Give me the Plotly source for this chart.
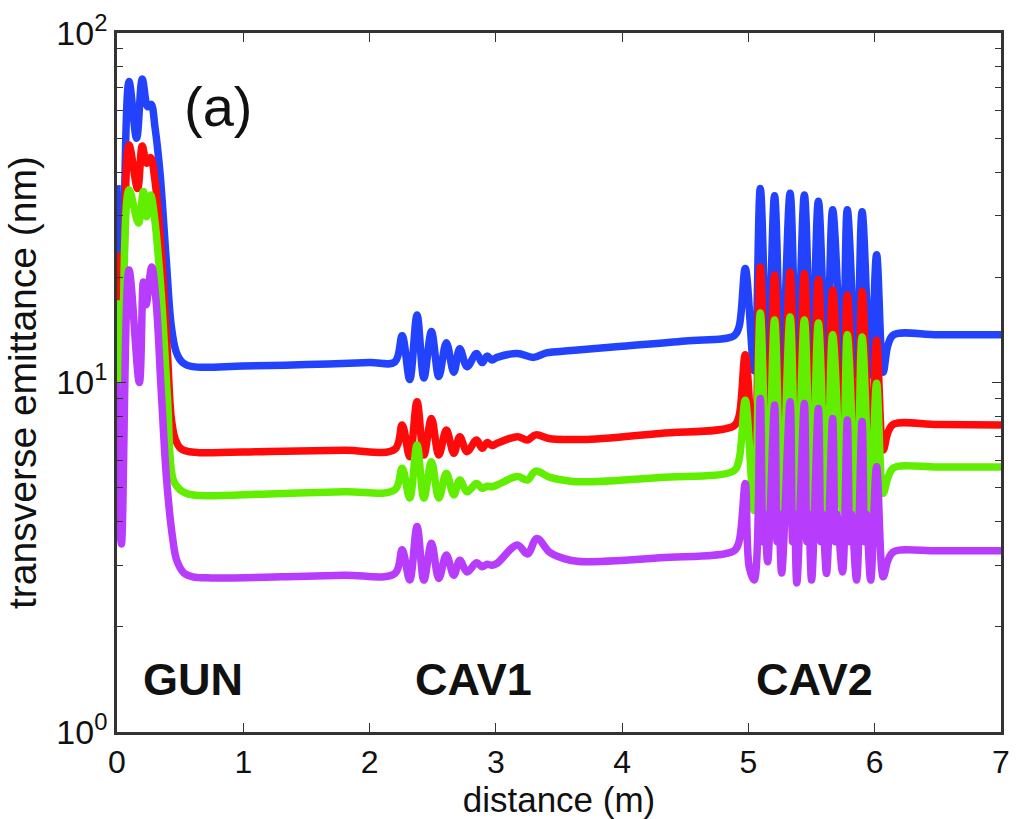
import plotly.graph_objects as go

# ---------------- data ----------------
blue_x = [0, 0.035, 0.095, 0.155, 0.2, 0.243, 0.27, 0.30, 0.34, 0.39, 0.43, 0.47, 0.52, 0.6, 1.0, 1.5, 2.0, 2.2,
          2.258, 2.318, 2.376, 2.43, 2.49, 2.548, 2.608, 2.667, 2.714, 2.772, 2.847, 2.891, 2.93, 2.97, 3.01, 3.17,
          3.30, 3.40, 3.6, 4.0, 4.5, 4.885, 4.925,
          4.975, 5.046, 5.094, 5.152, 5.207, 5.263, 5.33, 5.383, 5.443, 5.5, 5.554, 5.618, 5.667, 5.745, 5.783,
          5.856, 5.9, 5.968, 6.015, 6.067, 6.105, 6.15, 6.5, 7.0]
blue_y = [36.7, 13, 72.6, 50, 73.8, 61.5, 62.5, 54, 40, 22.4, 14.5, 12.2, 11.4, 11.1, 11.15, 11.25, 11.4, 11.45,
          13.6, 10.2, 15.6, 10.3, 14.0, 10.4, 13.0, 10.7, 12.5, 11.1, 12.1, 11.4, 11.9, 11.6, 11.8, 12.1,
          11.8, 12.15, 12.35, 12.7, 13.15, 13.6, 14.4,
          21.2, 10.8, 35.9, 10.5, 34.2, 10.5, 34.8, 10.5, 34.4, 10.5, 33.0, 10.5, 31.2, 10.5, 31.2,
          10.5, 30.8, 10.5, 23.2, 10.7, 12.8, 13.7, 13.7, 13.7]

red_x = [0, 0.035, 0.095, 0.163, 0.2, 0.235, 0.266, 0.30, 0.35, 0.40, 0.43, 0.46, 0.50, 0.56, 0.65, 1.2, 1.8, 2.2,
         2.258, 2.318, 2.376, 2.43, 2.49, 2.548, 2.608, 2.667, 2.714, 2.772, 2.847, 2.891, 2.93, 2.97, 3.01, 3.17,
         3.25, 3.315, 3.43, 3.59, 3.72, 4.3, 4.885, 4.925,
         4.975, 5.046, 5.094, 5.152, 5.207, 5.263, 5.33, 5.383, 5.443, 5.5, 5.554, 5.618, 5.667, 5.745, 5.783,
         5.856, 5.9, 5.968, 6.015, 6.067, 6.105, 6.15, 6.5, 7.0]
red_y = [23.5, 8, 47.8, 35.9, 47.5, 42.4, 44, 38, 24, 12.0, 7.9, 6.9, 6.5, 6.35, 6.3, 6.35, 6.4, 6.44,
         7.56, 6.13, 8.81, 6.2, 7.89, 6.2, 7.31, 6.27, 7.0, 6.34, 6.85, 6.48, 6.73, 6.6, 6.7, 7.0,
         6.85, 7.08, 6.9, 6.87, 6.87, 7.15, 7.51, 8.0,
         12.0, 5.6, 21.4, 5.6, 20.3, 5.6, 20.7, 5.6, 20.5, 5.6, 19.7, 5.6, 18.4, 5.6, 17.8,
         5.6, 18.2, 5.6, 13.2, 6.41, 7.2, 7.6, 7.58, 7.56]

green_x = [0, 0.035, 0.095, 0.17, 0.209, 0.235, 0.266, 0.30, 0.35, 0.40, 0.446, 0.50, 0.56, 0.65, 1.2, 1.8, 2.2,
           2.258, 2.318, 2.376, 2.43, 2.49, 2.548, 2.608, 2.667, 2.714, 2.772, 2.847, 2.891, 2.93, 2.97, 3.01, 3.17,
           3.25, 3.315, 3.43, 3.59, 3.72, 4.3, 4.885, 4.925,
           4.975, 5.046, 5.094, 5.152, 5.207, 5.263, 5.33, 5.383, 5.443, 5.5, 5.554, 5.618, 5.667, 5.745, 5.783,
           5.856, 5.9, 5.968, 6.015, 6.067, 6.105, 6.15, 6.5, 7.0]
green_y = [17.2, 6, 35.6, 28.6, 35.2, 29.8, 34.4, 29, 18, 9.0, 5.26, 4.93, 4.8, 4.75, 4.8, 4.87, 4.93,
           5.68, 4.67, 6.63, 4.67, 5.93, 4.67, 5.5, 4.77, 5.26, 4.87, 5.14, 4.98, 5.05, 5.03, 5.09, 5.38,
           5.26, 5.58, 5.35, 5.22, 5.2, 5.35, 5.59, 6.0,
           8.9, 4.3, 15.8, 4.3, 15.1, 4.3, 15.4, 4.3, 15.1, 4.3, 14.8, 4.3, 13.7, 4.3, 13.7,
           4.3, 13.5, 4.3, 9.95, 4.82, 5.35, 5.7, 5.73, 5.73]

purple_x = [0, 0.035, 0.095, 0.177, 0.209, 0.23, 0.275, 0.31, 0.35, 0.394, 0.44, 0.473, 0.53, 0.6, 0.75, 1.3, 1.8, 2.2,
            2.258, 2.318, 2.376, 2.43, 2.49, 2.548, 2.608, 2.667, 2.714, 2.772, 2.847, 2.891, 2.93, 2.97, 3.01, 3.17,
            3.25, 3.325, 3.43, 3.59, 3.72, 4.3, 4.885, 4.925,
            4.975, 5.006, 5.046,
            5.094, 5.114, 5.128, 5.152,
            5.207, 5.227, 5.241, 5.263,
            5.33, 5.35, 5.364, 5.383,
            5.443, 5.463, 5.477, 5.5,
            5.554, 5.574, 5.588, 5.618,
            5.667, 5.687, 5.701, 5.745,
            5.783, 5.803, 5.817, 5.856,
            5.9, 5.92, 5.934, 5.968,
            6.015, 6.067, 6.105, 6.15, 6.5, 7.0]
purple_y = [10, 3.45, 21, 10, 19.4, 16.7, 21.4, 17, 9.5, 5.2, 3.6, 3.1, 2.85, 2.78, 2.76, 2.78, 2.81, 2.84,
            3.32, 2.72, 3.87, 2.72, 3.47, 2.75, 3.21, 2.81, 3.1, 2.87, 3.05, 2.97, 3.02, 3.0, 3.04, 3.43,
            3.23, 3.58, 3.26, 3.1, 3.07, 3.15, 3.3, 3.5,
            5.14, 2.97, 2.72,
            9.0, 3.5, 4.2, 3.07,
            8.62, 3.5, 4.2, 2.85,
            8.81, 3.5, 4.2, 2.67,
            8.71, 3.5, 4.2, 2.72,
            8.43, 3.5, 4.2, 2.84,
            7.89, 3.5, 4.2, 2.87,
            7.81, 3.5, 4.2, 2.72,
            7.73, 3.5, 4.2, 2.72,
            5.74, 2.78, 3.1, 3.28, 3.3, 3.3]

x_ticks = [0, 1, 2, 3, 4, 5, 6, 7]
y_ticks = [1, 10, 100]
y_tick_text = ["10<sup>0</sup>", "10<sup>1</sup>", "10<sup>2</sup>"]

section_labels = ["GUN", "CAV1", "CAV2"]
section_x = [0.6, 2.82, 5.52]
section_y_log = 0.149
panel_label = "(a)"
panel_x = 0.80
panel_y_log = 1.79

# ---------------- figure ----------------
FONT = "Liberation Sans, Arial, Helvetica, sans-serif"

series = [
    (blue_x, blue_y, "#2342fb"),
    (red_x, red_y, "#ff0a0a"),
    (green_x, green_y, "#62ee00"),
    (purple_x, purple_y, "#b83cfb"),
]

fig = go.Figure()
for xs, ys, col in series:
    fig.add_trace(go.Scatter(
        x=xs, y=ys, mode="lines",
        line=dict(color=col, width=7.5, shape="spline", smoothing=1.0),
        showlegend=False, hoverinfo="skip",
    ))

for lab, xv in zip(section_labels, section_x):
    fig.add_annotation(x=xv, y=section_y_log, xref="x", yref="y", text="<b>" + lab + "</b>",
                       showarrow=False, font=dict(family=FONT, size=45, color="#111111"),
                       xanchor="center", yanchor="middle")

fig.add_annotation(x=panel_x, y=panel_y_log, xref="x", yref="y", text=panel_label, showarrow=False,
                   font=dict(family=FONT, size=56, color="#111111"), xanchor="center", yanchor="middle")

fig.update_layout(
    width=1017, height=819,
    margin=dict(l=117, r=16, t=33, b=87),
    paper_bgcolor="white", plot_bgcolor="white",
    font=dict(family=FONT, color="#111111"),
    xaxis=dict(
        range=[0, 7], tickvals=x_ticks, ticks="inside", ticklen=9, tickwidth=1.3,
        tickcolor="#333333", showline=True, linecolor="#333333", linewidth=2.5,
        mirror="allticks", showgrid=False, zeroline=False, automargin=False,
        tickfont=dict(family=FONT, size=32, color="#111111"),
        title=dict(text="distance (m)", font=dict(family=FONT, size=35, color="#111111"), standoff=4),
    ),
    yaxis=dict(
        type="log", range=[0, 2], tickvals=y_ticks, ticktext=y_tick_text,
        ticks="inside", ticklen=9, tickwidth=1.3, tickcolor="#333333",
        minor=dict(ticks="inside", ticklen=6, tickwidth=1.1, tickcolor="#333333", dtick="D1", showgrid=False),
        showline=True, linecolor="#333333", linewidth=2.5, mirror="allticks",
        showgrid=False, zeroline=False, automargin=False,
        tickfont=dict(family=FONT, size=34, color="#111111"),
        title=dict(text="transverse emittance (nm)", font=dict(family=FONT, size=39, color="#111111"),
                   standoff=8),
    ),
)

fig.write_html("out.html", config={"displayModeBar": False},
               post_script="document.body.style.margin='0';")
